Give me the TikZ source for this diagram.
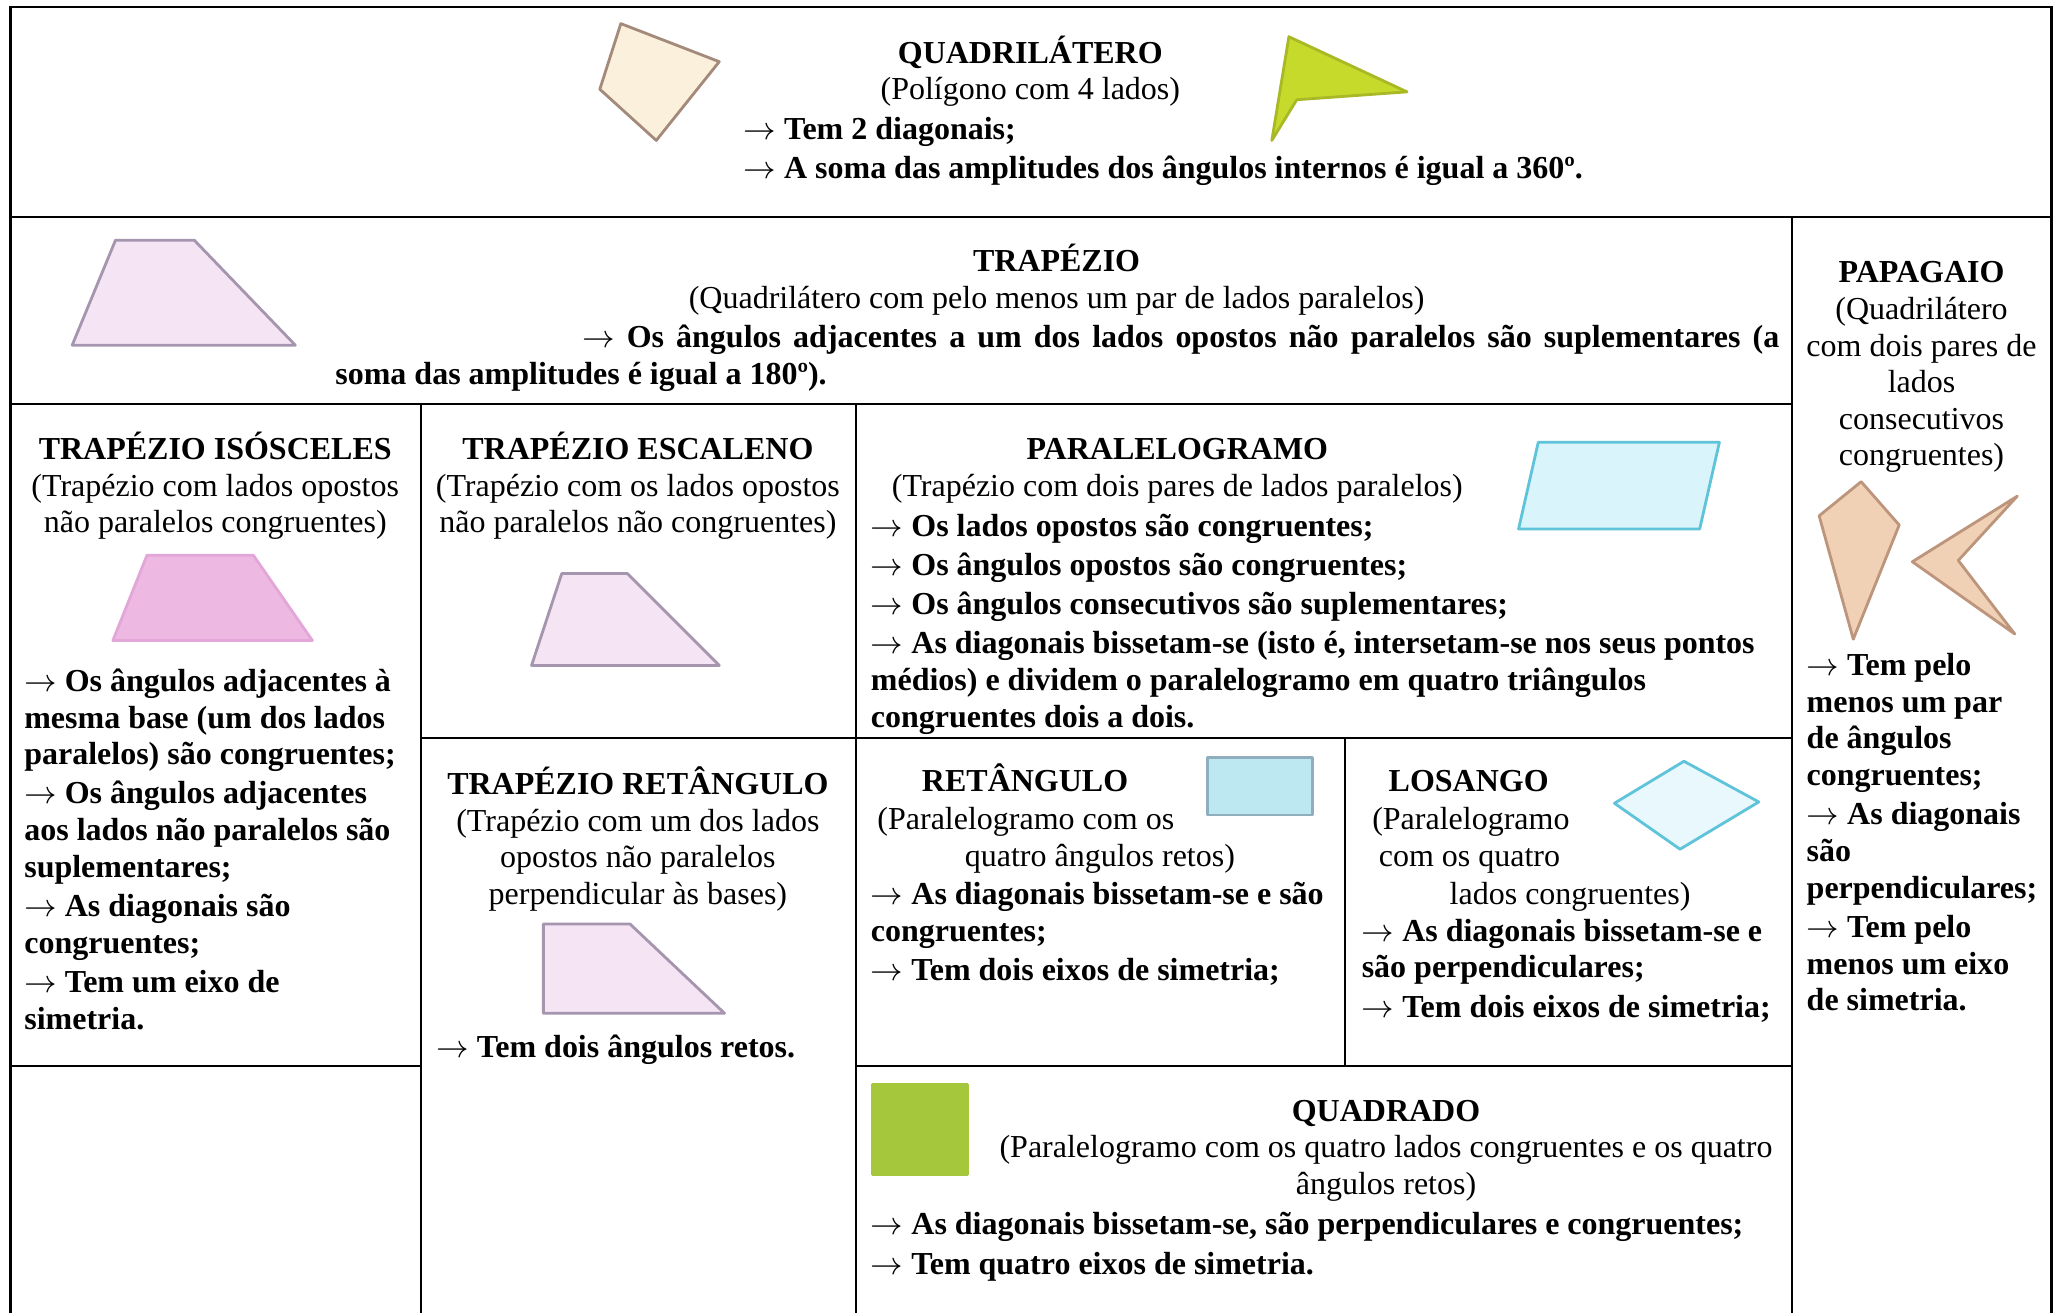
\documentclass[tikz,border=0pt]{standalone}
\usepackage{fontspec}
\setmainfont{Liberation Serif}
\usepackage{tikz}

\newcommand{\seta}{$\rightarrow$}

\definecolor{bege}{HTML}{FAF0DC}
\definecolor{begeborda}{HTML}{A38A7A}
\definecolor{lima}{HTML}{C6DA2C}
\definecolor{lilas}{HTML}{F4E4F4}
\definecolor{lilasborda}{HTML}{A595AE}
\definecolor{rosa}{HTML}{EDB9E3}
\definecolor{rosaborda}{HTML}{E2A6D8}
\definecolor{pele}{HTML}{F1D1B5}
\definecolor{peleborda}{HTML}{BC957C}
\definecolor{ciano}{HTML}{D9F4FA}
\definecolor{cianoborda}{HTML}{5FC3DA}
\definecolor{azul}{HTML}{BDE7F1}
\definecolor{azulborda}{HTML}{8FAFBF}
\definecolor{verde}{HTML}{A5C73B}

\begin{document}
\begin{tikzpicture}[x=0.013125cm, y=-0.013125cm,
    every node/.style={inner sep=0pt, font=\fontsize{9.1pt}{10.42pt}\selectfont},
    titulo/.style={anchor=base, font=\fontsize{9.1pt}{10.42pt}\selectfont\bfseries},
    desc/.style={anchor=base, align=center},
    linha/.style={anchor=base west},
    prop/.style={anchor=base west, align=left, font=\fontsize{9.1pt}{10.42pt}\selectfont\bfseries},
    grelha/.style={line width=0.6pt},
    figura/.style={line width=0.8pt, line join=round}]
    \useasboundingbox (0,0) rectangle (1568,1000);

    % grelha da tabela
    \draw[grelha] (8,1000) -- (8,5) -- (1563,5) -- (1563,1000);
    \draw[grelha] (8,165) -- (1563,165);
    \draw[grelha] (1365,165) -- (1365,1000);
    \draw[grelha] (8,308) -- (1365,308);
    \draw[grelha] (321,308) -- (321,1000);
    \draw[grelha] (652,308) -- (652,1000);
    \draw[grelha] (321,562) -- (1365,562);
    \draw[grelha] (1025,562) -- (1025,812);
    \draw[grelha] (8,812) -- (321,812);
    \draw[grelha] (652,812) -- (1365,812);

    % figuras
    \filldraw[figura, fill=bege, draw=begeborda] (473,18) -- (548,47) -- (500,107) -- (457,68) -- cycle;
    \filldraw[figura, fill=lima, draw=lima!85!black] (982,28) -- (1072,70) -- (988,76) -- (969,107) -- cycle;
    \filldraw[figura, fill=lilas, draw=lilasborda] (88,183) -- (148,183) -- (225,263) -- (55,263) -- cycle;
    \filldraw[figura, fill=rosa, draw=rosaborda] (112,423) -- (193,423) -- (238,488) -- (86,488) -- cycle;
    \filldraw[figura, fill=lilas, draw=lilasborda] (428,437) -- (478,437) -- (548,507) -- (405,507) -- cycle;
    \filldraw[figura, fill=lilas, draw=lilasborda] (414,704) -- (480,704) -- (552,772) -- (414,772) -- cycle;
    \filldraw[figura, fill=ciano, draw=cianoborda] (1172,337) -- (1310,337) -- (1295,403) -- (1157,403) -- cycle;
    \filldraw[figura, fill=azul, draw=azulborda] (920,577) rectangle (1000,621);
    \filldraw[figura, fill=ciano!60!white, draw=cianoborda] (1230,612) -- (1283,580) -- (1340,611) -- (1280,647) -- cycle;
    \filldraw[figura, fill=verde, draw=verde] (665,826) rectangle (737,895);
    \filldraw[figura, fill=pele, draw=peleborda] (1418,367) -- (1447,400) -- (1412,487) -- (1386,393) -- cycle;
    \filldraw[figura, fill=pele, draw=peleborda] (1457,428) -- (1537,378) -- (1492,427) -- (1535,483) -- cycle;

    % quadrilatero
    \node[desc] (quad) at (785,76) {\textbf{QUADRILÁTERO}\\(Polígono com 4 lados)};
    \node[prop] (quadp) at (566,136) {\seta{} Tem 2 diagonais;\\[0.75pt]\seta{} A soma das amplitudes dos ângulos internos é igual a 360º.};

    % trapezio
    \node[desc] (trap) at (805,235) {\textbf{TRAPÉZIO}\\(Quadrilátero com pelo menos um par de lados paralelos)};
    \node[prop] (trapp1) at (443,265) {\makebox[11.97cm][s]{\seta{} Os ângulos adjacentes a um dos lados opostos não paralelos são suplementares (a}};
    \node[prop] (trapp2) at (255,293) {soma das amplitudes é igual a 180º).};

    % papagaio
    \node[desc] (papa) at (1464,355) {\textbf{PAPAGAIO}\\(Quadrilátero\\com dois pares de\\lados\\consecutivos\\congruentes)};
    \node[prop] (papap) at (1376,770) {\seta{} Tem pelo\\menos um par\\de ângulos\\congruentes;\\[0.75pt]\seta{} As diagonais\\são\\perpendiculares;\\[0.75pt]\seta{} Tem pelo\\menos um eixo\\de simetria.};

    % trapezio isosceles
    \node[desc] (iso) at (164,406) {\textbf{TRAPÉZIO ISÓSCELES}\\(Trapézio com lados opostos\\não paralelos congruentes)};
    \node[prop] (isop) at (18,784) {\seta{} Os ângulos adjacentes à\\mesma base (um dos lados\\paralelos) são congruentes;\\[0.75pt]\seta{} Os ângulos adjacentes\\aos lados não paralelos são\\suplementares;\\[0.75pt]\seta{} As diagonais são\\congruentes;\\[0.75pt]\seta{} Tem um eixo de\\simetria.};

    % trapezio escaleno
    \node[desc] (esc) at (486,406) {\textbf{TRAPÉZIO ESCALENO}\\(Trapézio com os lados opostos\\não paralelos não congruentes)};

    % trapezio retangulo
    \node[desc] (tret) at (486,689) {\textbf{TRAPÉZIO RETÂNGULO}\\(Trapézio com um dos lados\\opostos não paralelos\\perpendicular às bases)};
    \node[prop] (tretp) at (332,806) {\seta{} Tem dois ângulos retos.};

    % paralelogramo
    \node[desc] (para) at (897,378) {\textbf{PARALELOGRAMO}\\(Trapézio com dois pares de lados paralelos)};
    \node[prop] (parap) at (663,554) {\seta{} Os lados opostos são congruentes;\\[0.75pt]\seta{} Os ângulos opostos são congruentes;\\[0.75pt]\seta{} Os ângulos consecutivos são suplementares;\\[0.75pt]\seta{} As diagonais bissetam-se (isto é, intersetam-se nos seus pontos\\médios) e dividem o paralelogramo em quatro triângulos\\congruentes dois a dois.};

    % retangulo
    \node[titulo] (ret) at (781,603) {RETÂNGULO};
    \node[linha] (retd1) at (668,632) {(Paralelogramo com os};
    \node[desc] (retd2) at (838,660) {quatro ângulos retos)};
    \node[prop] (retp) at (663,747) {\seta{} As diagonais bissetam-se e são\\congruentes;\\[0.75pt]\seta{} Tem dois eixos de simetria;};

    % losango
    \node[titulo] (los) at (1119,603) {LOSANGO};
    \node[linha] (losd1) at (1045,632) {(Paralelogramo};
    \node[linha] (losd2) at (1050,660) {com os quatro};
    \node[linha] (losd3) at (1104,689) {lados congruentes)};
    \node[prop] (losp) at (1037,775) {\seta{} As diagonais bissetam-se e\\são perpendiculares;\\[0.75pt]\seta{} Tem dois eixos de simetria;};

    % quadrado
    \node[desc] (qdr) at (1056,910) {\textbf{QUADRADO}\\(Paralelogramo com os quatro lados congruentes e os quatro\\ângulos retos)};
    \node[prop] (qdrp) at (663,971) {\seta{} As diagonais bissetam-se, são perpendiculares e congruentes;\\[1pt]\seta{} Tem quatro eixos de simetria.};
\end{tikzpicture}
\end{document}
